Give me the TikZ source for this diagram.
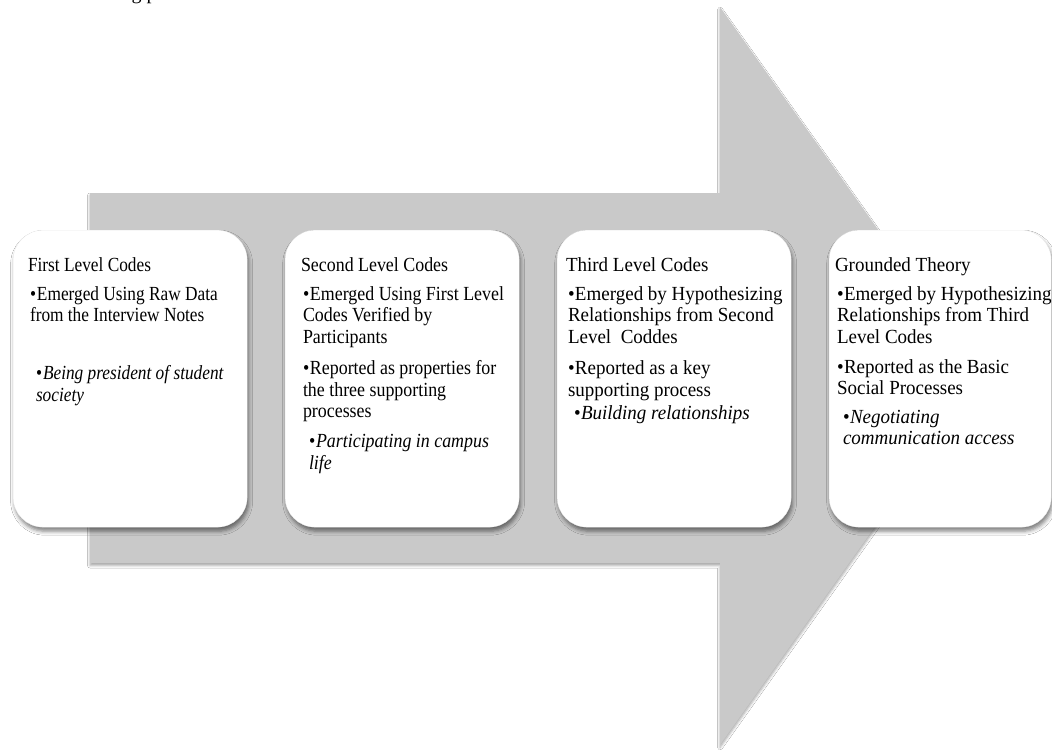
\documentclass[tikz,border=0pt]{standalone}
\usepackage{fontspec}
\setmainfont{Liberation Serif}
\newfontfamily\condA{Liberation Serif}[FakeStretch=0.865]
\newfontfamily\condB{Liberation Serif}[FakeStretch=0.895]
\newfontfamily\condC{Liberation Serif}[FakeStretch=0.95]
\usetikzlibrary{shadows.blur}
\definecolor{arrowgray}{HTML}{C9C9C9}
\newcommand\bulA[1]{\par\leftskip=2pt\hangindent=7pt\hangafter=1\noindent\makebox[7pt][l]{\textbullet}#1\par}
\newcommand\bulB[1]{\par\leftskip=8pt\hangindent=7pt\hangafter=1\noindent\makebox[7pt][l]{\textbullet}\textit{#1}\par}
\newcommand\boxfont{\fontsize{20}{21.5}\selectfont\raggedright}
\tikzset{
  codebox/.style={draw=black!8, line width=0.3pt, fill=white, rounded corners=30pt,
    minimum height=297pt, anchor=north west, inner sep=0pt,
    blur shadow={shadow xshift=1.5pt, shadow yshift=-4pt, shadow blur radius=4pt, shadow opacity=50}},
  txt/.style={anchor=base west, inner sep=0pt, outer sep=0pt},
  bigarrow/.style={fill=arrowgray,
    blur shadow={shadow xshift=0pt, shadow yshift=-2.5pt, shadow blur radius=2.5pt, shadow opacity=35}}
}
\begin{document}
\begin{tikzpicture}[x=1pt, y=-1pt]
\useasboundingbox (0,0) rectangle (1052,750);
\fill[white] (0,0) rectangle (1052,750);
% partial text at the top edge
\node[txt] (toptext) at (116,-1) {\fontsize{20}{21.5}\selectfont ing p};
% big arrow
\path[bigarrow] (90,193) -- (720,193) -- (720,7) -- (982,376) -- (720,745) -- (720,563) -- (90,563) -- cycle;
% boxes
\node[codebox, minimum width=234pt] (b1) at (13,230) {};
\node[codebox, minimum width=234pt] (b2) at (285,230) {};
\node[codebox, minimum width=234pt] (b3) at (557,230) {};
\node[codebox, minimum width=222pt] (b4) at (829,230) {};
% texts
\node[txt] (t1) at (28,271.7) {\begin{minipage}[t]{225pt}\condA\boxfont
First Level Codes\par\vspace{6.8pt}
\bulA{Emerged Using Raw Data\\from the Interview Notes}
\vspace{36.8pt}
\bulB{Being president of student\\society}
\end{minipage}};
\node[txt] (t2) at (301,271.7) {\begin{minipage}[t]{225pt}\condB\boxfont
Second Level Codes\par\vspace{6.8pt}
\bulA{Emerged Using First Level\\Codes Verified by\\Participants}
\vspace{10pt}
\bulA{Reported as properties for\\the three supporting\\processes}
\vspace{8.5pt}
\bulB{Participating in campus\\life}
\end{minipage}};
\node[txt] (t3) at (566,271.7) {\begin{minipage}[t]{225pt}\condC\boxfont
Third Level Codes\par\vspace{6.8pt}
\bulA{Emerged by Hypothesizing\\Relationships from Second\\Level\ \ Coddes}
\vspace{10pt}
\bulA{Reported as a key\\supporting process}
\vspace{2pt}
\bulB{Building relationships}
\end{minipage}};
\node[txt] (t4) at (835,271.7) {\begin{minipage}[t]{225pt}\condC\boxfont
Grounded Theory\par\vspace{6.8pt}
\bulA{Emerged by Hypothesizing\\Relationships from Third\\Level Codes}
\vspace{8.5pt}
\bulA{Reported as the Basic\\Social Processes}
\vspace{7pt}
\bulB{Negotiating\\communication access}
\end{minipage}};
\end{tikzpicture}
\end{document}
